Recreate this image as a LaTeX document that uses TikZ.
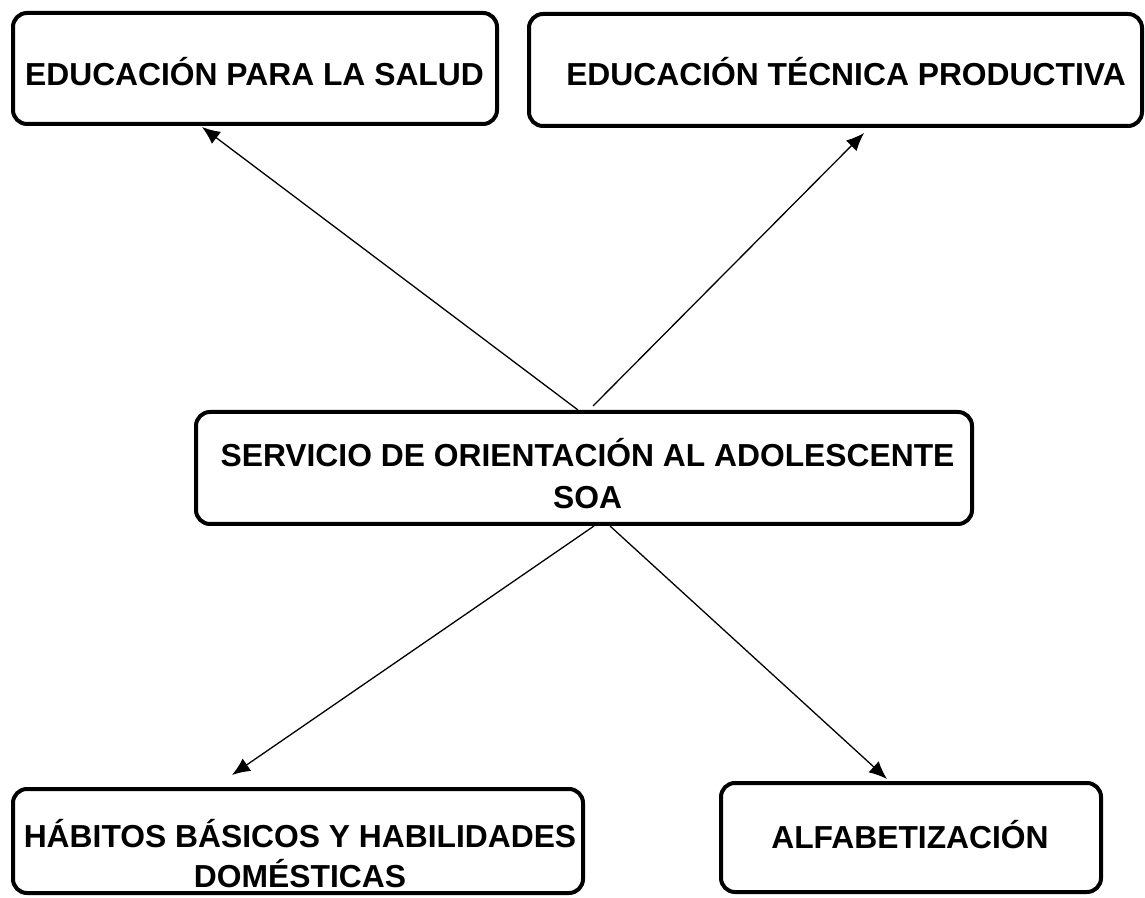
\documentclass[tikz,border=0pt]{standalone}
\usepackage{fontspec}
\setmainfont{Liberation Sans}
\usetikzlibrary{arrows.meta}
\begin{document}
\begin{tikzpicture}[x=1pt,y=1pt,
  box/.style={draw=black, line width=4pt, rounded corners=14pt, inner sep=0pt, fill=white},
  lbl/.style={font=\bfseries\fontsize{31.8}{42}\selectfont, align=center, inner sep=0pt, anchor=base},
  arr/.style={line width=1.3pt, -{Latex[length=18pt,width=15pt]}}]
\useasboundingbox (0,0) rectangle (1145,897);
\fill[white] (0,0) rectangle (1145,897);
% boxes
\node[box, minimum width=484pt, minimum height=111pt] (A) at (255,828.5) {};
\node[box, minimum width=613pt, minimum height=112pt] (B) at (835.5,827) {};
\node[box, minimum width=776pt, minimum height=112pt] (C) at (584,429) {};
\node[box, minimum width=570pt, minimum height=104pt] (D) at (298,56) {};
\node[box, minimum width=380pt, minimum height=109pt] (E) at (911,59.5) {};
% texts
\node[lbl] (At) at (254.5,811) {EDUCACIÓN PARA LA SALUD};
\node[lbl] (Bt) at (846,811) {EDUCACIÓN TÉCNICA PRODUCTIVA};
\node[lbl] (Ct) at (587.5,388) {SERVICIO DE ORIENTACIÓN AL ADOLESCENTE\\SOA};
\node[lbl, font=\bfseries\fontsize{31.8}{40}\selectfont] (Dt) at (300,10) {HÁBITOS BÁSICOS Y HABILIDADES\\DOMÉSTICAS};
\node[lbl] (Et) at (910,49) {ALFABETIZACIÓN};
% connectors
\draw[arr] ([xshift=-6pt]C.north) -- ([xshift=-53pt,yshift=-1pt]A.south);
\draw[arr] ([xshift=9pt,yshift=4pt]C.north) -- ([xshift=28.5pt,yshift=-5pt]B.south);
\draw[arr] ([xshift=10pt]C.south) -- ([xshift=-66pt,yshift=12pt]D.north);
\draw[arr] ([xshift=26pt]C.south) -- ([xshift=-24pt,yshift=2pt]E.north);
\end{tikzpicture}
\end{document}
